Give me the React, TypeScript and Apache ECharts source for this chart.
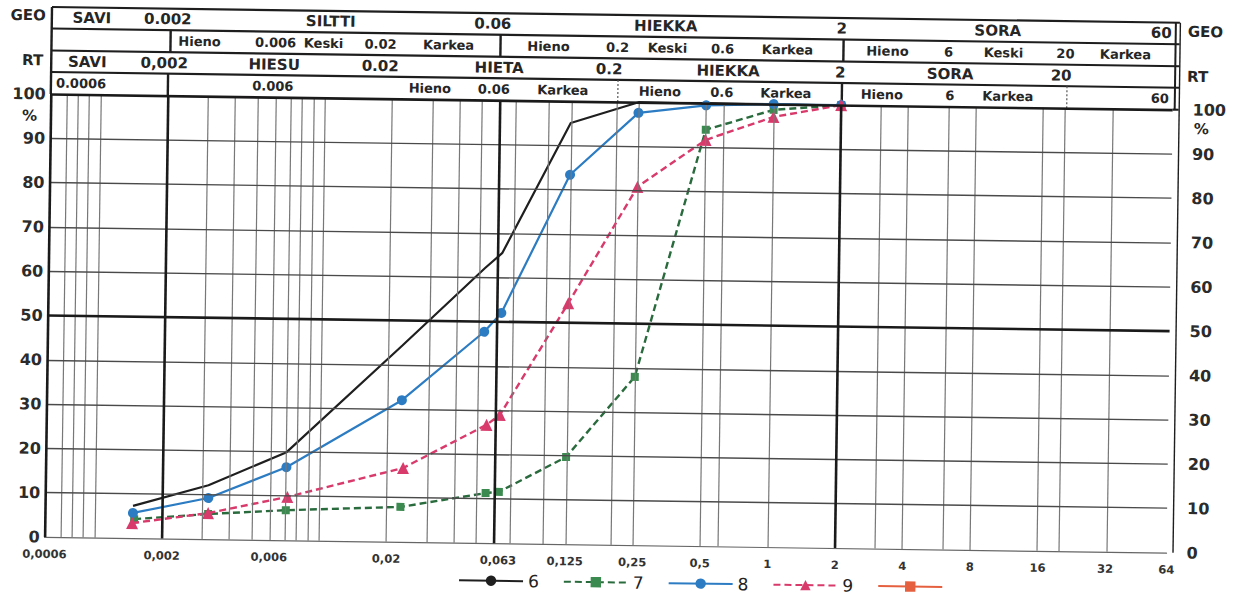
import React, { useEffect, useRef } from 'react';
import * as echarts from 'echarts';

// ---- data (grain size in mm, passing %) ----
const sizes6 = [0.00148, 0.0032, 0.0071, 0.023, 0.053, 0.063, 0.125, 0.25, 0.5, 1, 2];
const pass6 = [7.3, 12.2, 19.9, 44.4, 62.1, 65.5, 95.1, 100, 100, 100, 100];

const sizes7 = [0.0015, 0.0032, 0.0071, 0.023, 0.055, 0.063, 0.125, 0.25, 0.5, 1, 2];
const pass7 = [4.3, 5.7, 6.8, 7.9, 11.3, 11.6, 19.7, 38.0, 94.0, 98.7, 100];

const sizes8 = [0.00148, 0.0032, 0.0071, 0.023, 0.053, 0.063, 0.125, 0.25, 0.5, 1, 2];
const pass8 = [5.7, 9.3, 16.5, 32.0, 47.7, 52.0, 83.4, 97.6, 99.5, 100, 100];

const sizes9 = [0.00147, 0.0032, 0.0072, 0.0235, 0.055, 0.063, 0.125, 0.25, 0.5, 1, 2];
const pass9 = [3.4, 5.9, 9.8, 16.7, 26.7, 29.0, 54.4, 80.9, 91.7, 97.1, 100];

const seriesNames = ['6', '7', '8', '9', '10'];

const xTickValues = [0.0006, 0.002, 0.006, 0.02, 0.063, 0.125, 0.25, 0.5, 1, 2, 4, 8, 16, 32, 64];
const xTickLabels = ['0,0006', '0,002', '0,006', '0,02', '0,063', '0,125', '0,25', '0,5', '1', '2', '4', '8', '16', '32', '64'];

const X_MIN = 0.0006;
const X_MAX = 60;
const Y_MIN = 0;
const Y_MAX = 100;
const Y_STEP = 10;

const thickGrid = [0.0006, 0.002, 0.06, 2, 60];
const thinGrid = [0.0007, 0.0008, 0.0009, 0.001, 0.003, 0.004, 0.005, 0.006, 0.007, 0.008, 0.009, 0.01,
  0.02, 0.03, 0.04, 0.05, 0.07, 0.1, 0.125, 0.2, 0.25, 0.5, 0.6, 1, 3, 4, 6, 8, 16, 20, 32];
const thickH = [50, 100];

const headerRow1 = [['SAVI', 88], ['0.002', 164], ['SILTTI', 327], ['0.06', 489], ['HIEKKA', 662], ['2', 838], ['SORA', 994], ['60', 1168, 'right']];
const headerRow2 = [['Hieno', 196], ['0.006', 272], ['Keski', 320], ['0.02', 377], ['Karkea', 445], ['Hieno', 545], ['0.2', 614], ['Keski', 664], ['0.6', 719], ['Karkea', 784], ['Hieno', 884], ['6', 945], ['Keski', 1000], ['20', 1062], ['Karkea', 1122]];
const headerRow3 = [['SAVI', 84], ['0,002', 161], ['HIESU', 271], ['0.02', 377], ['HIETA', 496], ['0.2', 606], ['HIEKKA', 725], ['2', 837], ['SORA', 947], ['20', 1058]];
const headerRow4 = [['0.0006', 53, 'left'], ['0.006', 270], ['Hieno', 427], ['0.06', 491], ['Karkea', 560], ['Hieno', 657], ['0.6', 719], ['Karkea', 783], ['Hieno', 879], ['6', 947], ['Karkea', 1005], ['60', 1166, 'right']];

const lg = Math.log10;
const toPts = (s: number[], p: number[]) => s.map((d, i) => [lg(d), p[i]]);

export default function App() {
  const ref = useRef<HTMLDivElement>(null);

  useEffect(() => {
    const el = ref.current;
    if (!el) return;
    const chart = echarts.init(el, null, { renderer: 'svg' });

    const FONT = '"DejaVu Sans", Verdana, sans-serif';
    const gridLeft = 48, gridTop = 102, gridRightPx = 1170, gridBottomPx = 545;
    const ink = '#262626';

    const tickPos = xTickValues.map((v) => lg(Math.min(v, X_MAX)));

    const markData: any[] = [];
    thinGrid.forEach((v) => markData.push({ xAxis: lg(v), lineStyle: { color: '#777', width: 1.2, type: 'solid' } }));
    for (let y = Y_STEP; y < Y_MAX; y += Y_STEP) {
      if (thickH.indexOf(y) < 0) markData.push({ yAxis: y, lineStyle: { color: '#4a4a4a', width: 1.4, type: 'solid' } });
    }
    thickGrid.forEach((v) => markData.push({ xAxis: lg(v), lineStyle: { color: '#1a1a1a', width: 2.6, type: 'solid' } }));
    thickH.forEach((v) => markData.push({ yAxis: v, lineStyle: { color: '#1a1a1a', width: 2.6, type: 'solid' } }));

    const rowsY = [25.5, 47.5, 69.5, 91];
    const headerRows = [headerRow1, headerRow2, headerRow3, headerRow4];
    const graphics: any[] = [];
    headerRows.forEach((row, ri) => {
      const big = ri === 0 || ri === 2;
      row.forEach((it: any) => {
        graphics.push({
          type: 'text', x: it[1], y: rowsY[ri], silent: true,
          style: {
            text: it[0], fill: ink, font: `bold ${big ? 15 : 13}px ${FONT}`,
            textAlign: it[2] || 'center', textVerticalAlign: 'middle',
          },
        });
      });
    });
    const hl = (x1: number, y1: number, x2: number, y2: number, w: number, dash?: number[], c = '#1e1e1e') => ({
      type: 'line', silent: true, shape: { x1, y1, x2, y2 },
      style: { stroke: c, lineWidth: w, lineDash: dash || null },
    });
    [15, 36.5, 58.5, 80].forEach((y) => graphics.push(hl(gridLeft, y, 1176, y, 2.2)));
    graphics.push(hl(gridRightPx, gridTop, 1176, gridTop, 2.2));
    graphics.push(hl(gridLeft, 15, gridLeft, gridTop, 2.4));
    graphics.push(hl(1172, 15, 1172, gridTop, 2));
    graphics.push(hl(1176.5, 15, 1176.5, gridBottomPx, 1.4));
    [167, 497, 840].forEach((x) => graphics.push(hl(x, 36.5, x, 58.5, 2.4)));
    [165, 839].forEach((x) => graphics.push(hl(x, 80, x, gridTop, 2.4)));
    [615, 1064].forEach((x) => graphics.push(hl(x, 80, x, gridTop, 1.2, [2, 2], '#555')));
    const side = (t: string, x: number, y: number, align: string, size: number) => ({
      type: 'text', x, y, silent: true,
      style: { text: t, fill: ink, font: `bold ${size}px ${FONT}`, textAlign: align, textVerticalAlign: 'middle' },
    });
    graphics.push(side('GEO', 42, 23.5, 'right', 15));
    graphics.push(side('RT', 40, 68.5, 'right', 15));
    graphics.push(side('GEO', 1184, 24, 'left', 15));
    graphics.push(side('RT', 1184, 69, 'left', 15));
    graphics.push(side('%', 27, 124, 'center', 15));
    graphics.push(side('%', 1199, 121, 'center', 15));

    const option: any = {
      animation: false,
      backgroundColor: '#ffffff',
      grid: { left: gridLeft, top: gridTop, right: 1244 - gridRightPx, bottom: 597 - gridBottomPx },
      legend: {
        data: seriesNames,
        left: 457, top: 569,
        itemWidth: 64, itemHeight: 13, itemGap: 24,
        formatter: (n: string) => (n === '10' ? '' : n),
        textStyle: { fontSize: 17, color: '#222', fontFamily: FONT },
        selectedMode: false,
      },
      xAxis: {
        type: 'value', min: lg(X_MIN), max: lg(X_MAX),
        axisLine: { show: true, lineStyle: { color: '#666', width: 1.2 } },
        axisTick: { show: false },
        splitLine: { show: false },
        axisLabel: {
          customValues: tickPos,
          margin: 11,
          fontSize: 11.5, fontWeight: 'bold', color: '#333', fontFamily: FONT,
          formatter: (v: number) => {
            const i = tickPos.findIndex((p) => Math.abs(p - v) < 1e-6);
            return i >= 0 ? xTickLabels[i] : '';
          },
        },
      },
      yAxis: [
        {
          type: 'value', min: Y_MIN, max: Y_MAX, interval: Y_STEP, position: 'left',
          axisLine: { show: false }, axisTick: { show: false }, splitLine: { show: false },
          axisLabel: { margin: 5, fontSize: 16, fontWeight: 'bold', color: '#2b2b2b', fontFamily: FONT },
        },
        {
          type: 'value', min: Y_MIN, max: Y_MAX, interval: Y_STEP, position: 'right',
          axisLine: { show: false }, axisTick: { show: false }, splitLine: { show: false },
          axisLabel: { margin: 20, fontSize: 16, fontWeight: 'bold', color: '#2b2b2b', fontFamily: FONT, align: 'left' },
        },
      ],
      series: [
        {
          name: '_grid', type: 'line', data: [[lg(X_MIN), 0]], symbol: 'none', silent: true, z: 1,
          lineStyle: { opacity: 0 },
          markLine: { silent: true, symbol: ['none', 'none'], label: { show: false }, data: markData },
        },
        {
          name: '6', type: 'line', data: toPts(sizes6, pass6), symbol: 'none', z: 3,
          lineStyle: { color: '#1f1f1f', width: 2.2 }, itemStyle: { color: '#1f1f1f' },
        },
        {
          name: '7', type: 'line', data: toPts(sizes7, pass7), symbol: 'rect', symbolSize: 8, z: 3,
          lineStyle: { color: '#2a6b3e', width: 2.4, type: [7, 4] }, itemStyle: { color: '#3b8a4f' },
        },
        {
          name: '8', type: 'line', data: toPts(sizes8, pass8), symbol: 'circle', symbolSize: 10, z: 4,
          lineStyle: { color: '#2c7cc3', width: 2.2 }, itemStyle: { color: '#2c7cc3' },
        },
        {
          name: '9', type: 'line', data: toPts(sizes9, pass9), symbol: 'triangle', symbolSize: 12, z: 4,
          lineStyle: { color: '#d93a6c', width: 2.4, type: [7, 4] }, itemStyle: { color: '#d93a6c' },
        },
        {
          name: '10', type: 'line', data: [], symbol: 'rect', symbolSize: 9,
          lineStyle: { color: '#e5603f', width: 2.2 }, itemStyle: { color: '#e5603f' },
        },
      ],
      graphic: { elements: graphics },
    };

    chart.setOption(option);
    return () => chart.dispose();
  }, []);

  return (
    <div style={{ position: 'absolute', left: 0, top: 0, width: 1244, height: 597, transform: 'rotate(0.8deg)', transformOrigin: '622px 298px' }}>
      <div ref={ref} style={{ width: 1244, height: 597 }} />
    </div>
  );
}
